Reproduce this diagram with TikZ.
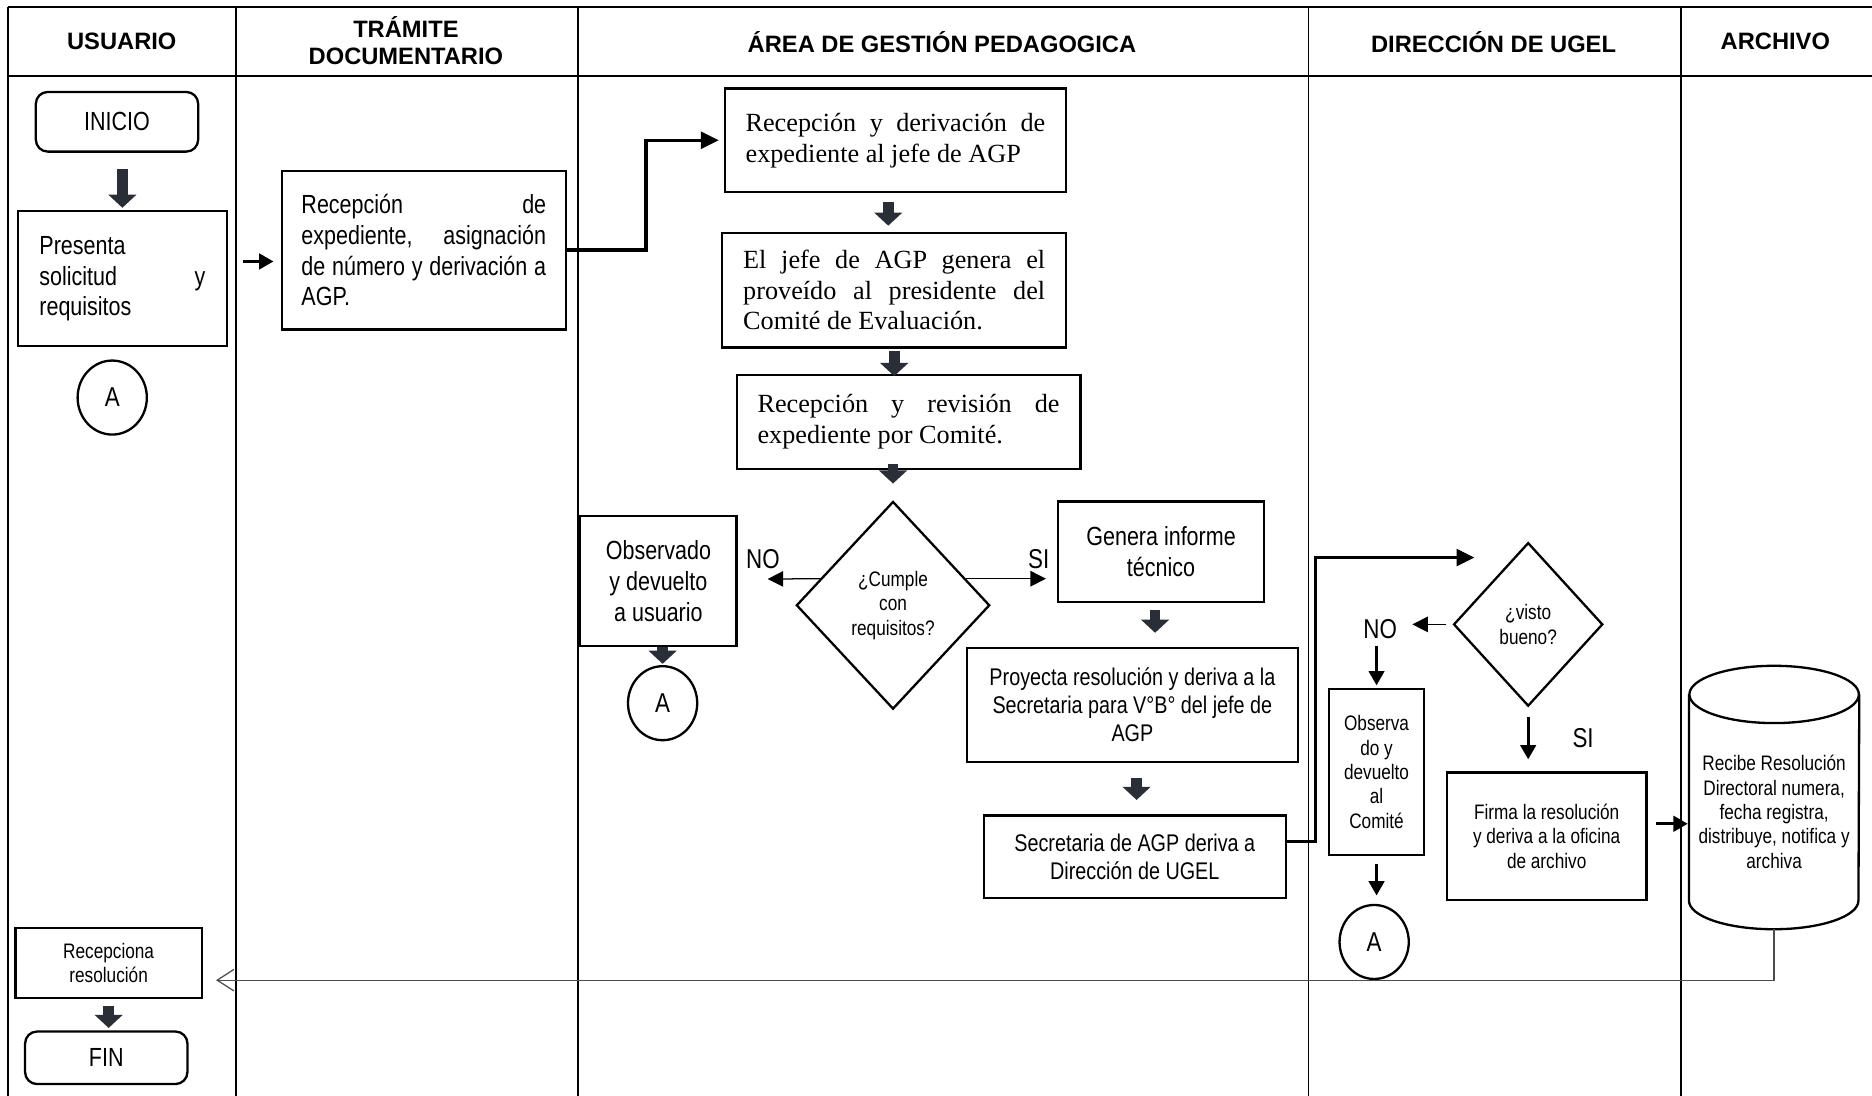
\documentclass[tikz,border=0pt]{standalone}
\usepackage{fontspec}
\setmainfont{Liberation Sans}
\newfontfamily\narrowsf[FakeStretch=0.82]{Liberation Sans}
\newfontfamily\serifrm{Liberation Serif}
\usetikzlibrary{arrows.meta,shapes.geometric,calc}
\definecolor{arrdark}{HTML}{2A2E36}
\newcommand{\lanetxt}{\bfseries\fontsize{11.3}{13}\selectfont}
\newcommand{\boxtxt}{\narrowsf\fontsize{12.5}{14.7}\selectfont}
\newcommand{\midtxt}{\narrowsf\fontsize{11.5}{13.3}\selectfont}
\newcommand{\smtxt}{\narrowsf\fontsize{10}{11.6}\selectfont}
\newcommand{\romtxt}{\serifrm\fontsize{12.5}{14.7}\selectfont}

\begin{document}
\begin{tikzpicture}[x=0.02cm,y=-0.02cm,
  lane/.style={line width=0.9pt},
  proc/.style={draw,line width=1.1pt,inner sep=0pt,font=\boxtxt,align=center},
  term/.style={proc,rounded corners=0.2cm},
  jbox/.style={proc,align=justify},
  conn/.style={draw,ellipse,line width=1.1pt,inner sep=0pt,minimum width=1.16cm,minimum height=1.24cm,font=\narrowsf\fontsize{13}{15}\selectfont},
  decide/.style={draw,diamond,line width=1.1pt,inner sep=0pt,align=center,font=\smtxt},
  lbl/.style={font=\narrowsf\fontsize{13}{15}\selectfont},
  blockarr/.style={draw=arrdark,line width=0.18cm,-{Triangle[length=0.22cm,width=0.46cm]}},
  flowarr/.style={line width=1.4pt,-{Triangle[length=0.24cm,width=0.26cm]}},
  thinarr/.style={line width=0.6pt,-{Triangle[length=0.26cm,width=0.26cm]}},
  linkarr/.style={line width=1.6pt,-{Triangle[length=0.3cm,width=0.28cm]}},
  retarr/.style={draw=black!70,line width=0.6pt,-{Straight Barb[length=0.28cm,width=0.36cm]}}]
\useasboundingbox (0,0) rectangle (1568,918);

\node[font=\lanetxt] (husu) at (102,35) {USUARIO};
\node[font=\lanetxt,align=center] (htra) at (340,34) {TRÁMITE\\DOCUMENTARIO};
\node[font=\lanetxt] (hagp) at (789,35) {ÁREA DE GESTIÓN PEDAGOGICA};
\node[font=\lanetxt] (hdir) at (1251,35) {DIRECCIÓN DE UGEL};
\node[font=\lanetxt] (harc) at (1487,35) {ARCHIVO};

\draw[lane] (7,6) -- (1568,6);
\draw[lane] (7,64) -- (1568,64);
\foreach \x in {7,198,484,1096,1408}
  \draw[lane] (\x,6) -- (\x,918);

\node[term,minimum width=2.72cm,minimum height=1cm] (inicio) at (98,102) {INICIO};
\node[jbox,text width=2.78cm,minimum width=3.5cm,minimum height=2.26cm] (presenta) at (102.5,233.5) {Presenta\newline solicitud y\linebreak requisitos};
\node[conn] (a1) at (94,333) {A};
\node[jbox,text width=4.1cm,minimum width=4.76cm,minimum height=2.66cm] (tramite) at (355,209.5) {Recepción de\linebreak expediente, asignación\linebreak de número y derivación a\linebreak AGP.};

\node[jbox,font=\romtxt,text width=5.02cm,minimum width=5.72cm,minimum height=1.74cm] (agp1) at (750,117.5) {Recepción y derivación de\linebreak expediente al jefe de AGP};
\node[jbox,font=\romtxt,text width=5.06cm,minimum width=5.76cm,minimum height=1.92cm] (agp2) at (749,243) {El jefe de AGP genera el\linebreak proveído al presidente del\linebreak Comité de Evaluación.};
\node[jbox,font=\romtxt,text width=5.06cm,minimum width=5.76cm,minimum height=1.58cm] (agp3) at (761,353.5) {Recepción y revisión de\linebreak expediente por Comité.};
\node[decide,minimum width=3.24cm,minimum height=3.48cm] (cumple) at (748,507) {¿Cumple\\con\\requisitos?};
\node[lbl] (noA) at (639,468) {NO};
\node[lbl] (siA) at (870,468) {SI};
\coordinate (noAtip) at (643,485);
\node[proc,minimum width=2.62cm,minimum height=2.18cm] (obsA) at (551.5,486.5) {Observado\\y devuelto\\a usuario};
\node[conn] (a2) at (555,589) {A};
\node[proc,minimum width=3.46cm,minimum height=1.68cm] (genera) at (972.5,462) {Genera informe\\técnico};
\node[proc,font=\midtxt,minimum width=5.54cm,minimum height=1.9cm] (proyecta) at (948.5,590.5) {Proyecta resolución y deriva a la\\Secretaria para V°B° del jefe de\\AGP};
\node[proc,font=\midtxt,minimum width=5.06cm,minimum height=1.38cm] (secre) at (950.5,717.5) {Secretaria de AGP deriva a\\Dirección de UGEL};

\node[decide,minimum width=2.5cm,minimum height=2.74cm] (visto) at (1280,523) {¿visto\\bueno?};
\coordinate (vistoin) at (1235,467);
\node[lbl] (noB) at (1156,527) {NO};
\coordinate (noBtip) at (1183,523);
\node[proc,font=\smtxt,minimum width=1.6cm,minimum height=2.78cm] (obsC) at (1153,646.5) {Observa\\do y\\devuelto\\al\\Comité};
\node[conn] (a3) at (1151,789) {A};
\node[lbl] (siB) at (1326,618) {SI};
\node[proc,font=\smtxt,minimum width=3.34cm,minimum height=2.14cm] (firma) at (1295.5,700.5) {Firma la resolución\\y deriva a la oficina\\de archivo};

\node[font=\smtxt,align=center,inner sep=0pt,minimum width=2.84cm,minimum height=3.92cm] (archivo) at (1486,680) {Recibe Resolución\\Directoral numera,\\fecha registra,\\distribuye, notifica y\\archiva};
\draw[line width=1.1pt] (archivo.north) ellipse [x radius=1.42cm, y radius=0.48cm];
\draw[line width=1.1pt] (archivo.north west) -- ([yshift=0.48cm]archivo.south west) arc[start angle=180, end angle=360, x radius=1.42cm, y radius=0.48cm] -- (archivo.north east);

\node[proc,font=\smtxt,minimum width=3.12cm,minimum height=1.18cm] (recep) at (91,806.5) {Recepciona\\resolución};
\node[term,minimum width=2.72cm,minimum height=0.88cm] (fin) at (89,886) {FIN};

\draw[blockarr,shorten <=0.28cm,shorten >=0.04cm] (presenta.north |- inicio.south) -- (presenta.north);
\draw[flowarr] ($(presenta.east |- tramite.west)+(13,9.5)$) -- ($(tramite.west)+(-6,9.5)$);
\draw[linkarr,shorten >=0.08cm] (tramite.east) -- ++(66,0) |- (agp1.west);
\draw[blockarr] ($(agp1.south)+(-6,7)$) -- ($(agp1.south |- agp2.north)+(-6,-5)$);
\draw[blockarr,shorten <=0.04cm,shorten >=-0.04cm] (agp2.south) -- (agp2.south |- agp3.north);
\draw[blockarr,shorten <=-0.1cm,shorten >=0.28cm] (cumple.north |- agp3.south) -- (cumple.north);
\draw[thinarr] (cumple.160) -- (noAtip);
\draw[thinarr,shorten >=0.18cm] (cumple.20) -- (cumple.20 -| genera.west);
\draw[blockarr,shorten >=0.02cm] (a2.north |- obsA.south) -- (a2.north);
\draw[blockarr] ($(genera.south)+(-5,6)$) -- ($(genera.south |- proyecta.north)+(-5,-12)$);
\draw[blockarr] ($(proyecta.south)+(3.5,13)$) -- ($(proyecta.south |- secre.north)+(3.5,-12)$);
\draw[linkarr] ($(secre.east)+(0,-12.5)$) -- ++(24,0) |- (vistoin);
\draw[thinarr,shorten <=0.1cm] (visto.west) -- (noBtip);
\draw[flowarr,shorten >=0.04cm] (obsC.north |- noB.south) -- (obsC.north);
\draw[flowarr,shorten <=0.14cm,shorten >=0.14cm] (obsC.south) -- (obsC.south |- a3.north);
\draw[flowarr,shorten <=0.16cm,shorten >=0.2cm] (visto.south) -- (visto.south |- firma.north);
\draw[flowarr,shorten <=0.14cm,shorten >=0.02cm] ($(firma.east)+(0,-10.5)$) -- ($(firma.east -| archivo.west)+(0,-10.5)$);
\draw[retarr,shorten >=0.22cm] (archivo.south) |- ($(recep.east)+(0,14.5)$);
\draw[blockarr,shorten <=0.12cm,shorten >=0.04cm] (recep.south) -- (recep.south |- fin.north);
\end{tikzpicture}
\end{document}
